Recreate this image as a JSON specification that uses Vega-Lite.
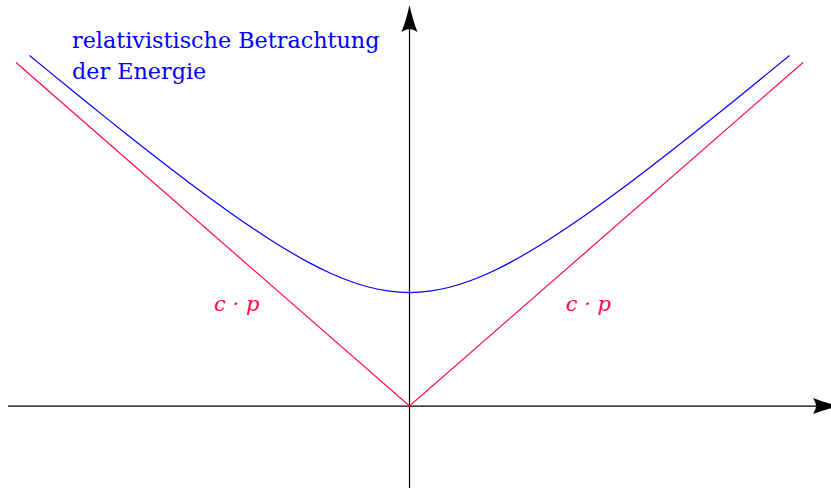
{
  "$schema": "https://vega.github.io/schema/vega-lite/v6.json",
  "width": 831,
  "height": 488,
  "autosize": {"type": "none"},
  "padding": 0,
  "background": "white",
  "config": {"view": {"stroke": null}},
  "datasets": {
    "axes": [
      {"x": -4.015, "y": 0, "x2": 4.1, "y2": 0},
      {"x": 0, "y": -0.95, "x2": 0, "y2": 4.36}
    ],
    "arrows": [
      {"x": 0, "y": 4.593, "dir": "up"},
      {"x": 4.305, "y": 0, "dir": "right"}
    ],
    "asymptote": [
      {"x": -3.935, "y": 3.935},
      {"x": 0, "y": 0},
      {"x": 3.935, "y": 3.935}
    ],
    "energy": [
      {"x": -3.8, "y": 4.0162}, {"x": -3.6, "y": 3.8275}, {"x": -3.4, "y": 3.6401},
      {"x": -3.2, "y": 3.454}, {"x": -3.0, "y": 3.2696}, {"x": -2.8, "y": 3.0871},
      {"x": -2.6, "y": 2.9069}, {"x": -2.4, "y": 2.7295}, {"x": -2.2, "y": 2.5554},
      {"x": -2.0, "y": 2.3854}, {"x": -1.8, "y": 2.2204}, {"x": -1.6, "y": 2.0616},
      {"x": -1.4, "y": 1.9105}, {"x": -1.2, "y": 1.7692}, {"x": -1.0, "y": 1.6401},
      {"x": -0.8, "y": 1.5264}, {"x": -0.6, "y": 1.4318}, {"x": -0.4, "y": 1.3601},
      {"x": -0.2, "y": 1.3153}, {"x": 0, "y": 1.3}, {"x": 0.2, "y": 1.3153},
      {"x": 0.4, "y": 1.3601}, {"x": 0.6, "y": 1.4318}, {"x": 0.8, "y": 1.5264},
      {"x": 1.0, "y": 1.6401}, {"x": 1.2, "y": 1.7692}, {"x": 1.4, "y": 1.9105},
      {"x": 1.6, "y": 2.0616}, {"x": 1.8, "y": 2.2204}, {"x": 2.0, "y": 2.3854},
      {"x": 2.2, "y": 2.5554}, {"x": 2.4, "y": 2.7295}, {"x": 2.6, "y": 2.9069},
      {"x": 2.8, "y": 3.0871}, {"x": 3.0, "y": 3.2696}, {"x": 3.2, "y": 3.454},
      {"x": 3.4, "y": 3.6401}, {"x": 3.6, "y": 3.8275}, {"x": 3.8, "y": 4.0162}
    ],
    "title": [
      {"x": -3.375, "y": 4.104, "text": "relativistische Betrachtung"},
      {"x": -3.375, "y": 3.742, "text": "der Energie"}
    ],
    "labels": [
      {"x": -1.728, "y": 1.088, "text": "c · p"},
      {"x": 1.788, "y": 1.088, "text": "c · p"}
    ]
  },
  "layer": [
    {
      "data": {"name": "axes"},
      "mark": {"type": "rule", "color": "black", "strokeWidth": 1.2},
      "encoding": {
        "x": {"field": "x", "type": "quantitative", "axis": null, "scale": {"domain": [-4.095, 4.215], "nice": false, "zero": false}},
        "x2": {"field": "x2"},
        "y": {"field": "y", "type": "quantitative", "axis": null, "scale": {"domain": [-0.939, 4.651], "nice": false, "zero": false}},
        "y2": {"field": "y2"}
      }
    },
    {
      "data": {"name": "arrows"},
      "mark": {"type": "point", "filled": true, "color": "black", "opacity": 1, "strokeWidth": 0, "size": 400},
      "encoding": {
        "x": {"field": "x", "type": "quantitative", "axis": null, "scale": {"domain": [-4.095, 4.215], "nice": false, "zero": false}},
        "y": {"field": "y", "type": "quantitative", "axis": null, "scale": {"domain": [-0.939, 4.651], "nice": false, "zero": false}},
        "shape": {
          "field": "dir",
          "type": "nominal",
          "legend": null,
          "scale": {
            "domain": ["up", "right"],
            "range": [
              "M0,0 Q0.35,1.6 0.8,2.7 Q0.3,2.4 0,2.4 Q-0.3,2.4 -0.8,2.7 Q-0.35,1.6 0,0 Z",
              "M0,0 Q-1.6,0.35 -2.7,0.8 Q-2.4,0.3 -2.4,0 Q-2.4,-0.3 -2.7,-0.8 Q-1.6,-0.35 0,0 Z"
            ]
          }
        }
      }
    },
    {
      "data": {"name": "asymptote"},
      "mark": {"type": "line", "color": "#ff0a4a", "strokeWidth": 1.2},
      "encoding": {
        "x": {"field": "x", "type": "quantitative", "axis": null, "scale": {"domain": [-4.095, 4.215], "nice": false, "zero": false}},
        "y": {"field": "y", "type": "quantitative", "axis": null, "scale": {"domain": [-0.939, 4.651], "nice": false, "zero": false}}
      }
    },
    {
      "data": {"name": "energy"},
      "mark": {"type": "line", "color": "#0000ff", "strokeWidth": 1.2, "interpolate": "monotone"},
      "encoding": {
        "x": {"field": "x", "type": "quantitative", "axis": null, "scale": {"domain": [-4.095, 4.215], "nice": false, "zero": false}},
        "y": {"field": "y", "type": "quantitative", "axis": null, "scale": {"domain": [-0.939, 4.651], "nice": false, "zero": false}}
      }
    },
    {
      "data": {"name": "title"},
      "mark": {"type": "text", "align": "left", "baseline": "alphabetic", "font": "DejaVu Serif", "fontSize": 22.3, "color": "#0000ff"},
      "encoding": {
        "x": {"field": "x", "type": "quantitative", "axis": null, "scale": {"domain": [-4.095, 4.215], "nice": false, "zero": false}},
        "y": {"field": "y", "type": "quantitative", "axis": null, "scale": {"domain": [-0.939, 4.651], "nice": false, "zero": false}},
        "text": {"field": "text"}
      }
    },
    {
      "data": {"name": "labels"},
      "mark": {"type": "text", "align": "center", "baseline": "alphabetic", "font": "DejaVu Serif", "fontStyle": "italic", "fontSize": 21, "color": "#ff0a4a"},
      "encoding": {
        "x": {"field": "x", "type": "quantitative", "axis": null, "scale": {"domain": [-4.095, 4.215], "nice": false, "zero": false}},
        "y": {"field": "y", "type": "quantitative", "axis": null, "scale": {"domain": [-0.939, 4.651], "nice": false, "zero": false}},
        "text": {"field": "text"}
      }
    }
  ]
}
